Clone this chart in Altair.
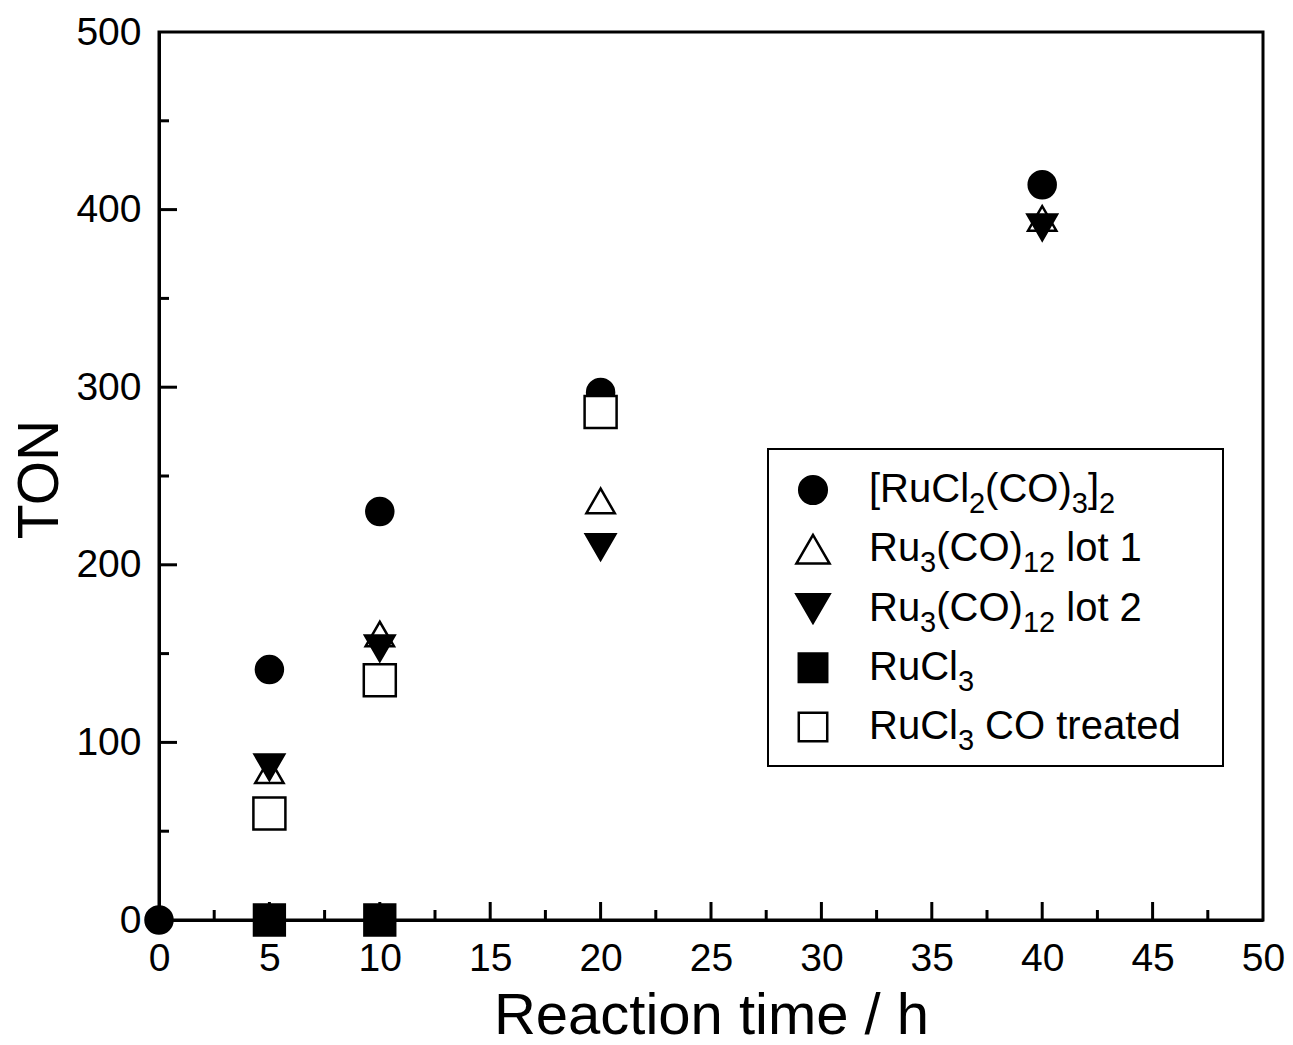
import altair as alt
import pandas as pd

# ---------------- data ----------------
series_names = ["[RuCl2(CO)3]2", "Ru3(CO)12 lot 1", "Ru3(CO)12 lot 2", "RuCl3", "RuCl3 CO treated"]
# legend labels split into (text, is_subscript) pieces
label_parts = [
    [("[RuCl", 0), ("2", 1), ("(CO)", 0), ("3", 1), ("]", 0), ("2", 1)],
    [("Ru", 0), ("3", 1), ("(CO)", 0), ("12", 1), (" lot 1", 0)],
    [("Ru", 0), ("3", 1), ("(CO)", 0), ("12", 1), (" lot 2", 0)],
    [("RuCl", 0), ("3", 1)],
    [("RuCl", 0), ("3", 1), (" CO treated", 0)],
]
shapes = ["circle", "triangle-up", "triangle-down", "square", "square"]
fills = ["black", "white", "black", "black", "white"]
sizes = [729, 1024, 1024, 900, 529]
legend_sizes = [760, 1100, 1100, 810, 810]

time_a = [0, 5, 10, 20, 40]
ton_a = [0, 141, 230, 297, 414]
time_b = [5, 10, 20, 40]
ton_b = [84, 161, 236, 395]
time_c = [5, 10, 20, 40]
ton_c = [86, 153, 210, 390]
time_d = [5, 10]
ton_d = [0, 0]
time_e = [5, 10, 20]
ton_e = [60, 135, 286]

x_labels = [0, 5, 10, 15, 20, 25, 30, 35, 40, 45, 50]
y_labels = [0, 100, 200, 300, 400, 500]
x_major = [5, 10, 15, 20, 25, 30, 35, 40, 45]
x_minor = [2.5, 7.5, 12.5, 17.5, 22.5, 27.5, 32.5, 37.5, 42.5, 47.5]
y_major = [100, 200, 300, 400]
y_minor = [50, 150, 250, 350, 450]

rows = []
for name, ts, vs in zip(series_names,
                        [time_a, time_b, time_c, time_d, time_e],
                        [ton_a, ton_b, ton_c, ton_d, ton_e]):
    for t, v in zip(ts, vs):
        rows.append({"series": name, "time": t, "ton": v})
df = pd.DataFrame(rows)

W, H = 1104, 888
PAD_L, PAD_T = 151, 24
FONT = "Liberation Sans"

xscale = alt.Scale(domain=[0, 50], nice=False, zero=False)
yscale = alt.Scale(domain=[0, 500], nice=False, zero=False)

x_axis = alt.Axis(values=x_labels, ticks=False, tickSize=0, grid=False,
                  labelFontSize=39, labelPadding=19, labelFont=FONT,
                  titleFontSize=58, titleFont=FONT, titleFontWeight="normal",
                  titleBaseline="alphabetic", titleY=113,
                  domainColor="black", domainWidth=3, labelColor="black",
                  titleColor="black", labelFlush=False)
y_axis = alt.Axis(values=y_labels, ticks=False, tickSize=0, grid=False,
                  labelFontSize=39, labelPadding=18, labelFont=FONT,
                  titleFontSize=57, titleFont=FONT, titleFontWeight="normal",
                  titleBaseline="alphabetic", titleX=-102, titleY=447,
                  domainColor="black", domainWidth=3, labelColor="black",
                  titleColor="black", labelFlush=False)

points = alt.Chart(df).mark_point(
    stroke="black", strokeWidth=2.5, opacity=1, fillOpacity=1
).encode(
    x=alt.X("time:Q", scale=xscale, title="Reaction time / h", axis=x_axis),
    y=alt.Y("ton:Q", scale=yscale, title="TON", axis=y_axis),
    shape=alt.Shape("series:N", scale=alt.Scale(domain=series_names, range=shapes), legend=None),
    fill=alt.Fill("series:N", scale=alt.Scale(domain=series_names, range=fills), legend=None),
    size=alt.Size("series:N", scale=alt.Scale(domain=series_names, range=sizes), legend=None),
)

xmaj = alt.Chart(pd.DataFrame({"v": x_major})).mark_rule(color="black", strokeWidth=3).encode(
    x=alt.X("v:Q", scale=xscale, title="Reaction time / h"), y=alt.value(H), y2=alt.value(H - 18))
xmin = alt.Chart(pd.DataFrame({"v": x_minor})).mark_rule(color="black", strokeWidth=3).encode(
    x=alt.X("v:Q", scale=xscale, title="Reaction time / h"), y=alt.value(H), y2=alt.value(H - 10))
ymaj = alt.Chart(pd.DataFrame({"v": y_major})).mark_rule(color="black", strokeWidth=3).encode(
    y=alt.Y("v:Q", scale=yscale, title="TON"), x=alt.value(0), x2=alt.value(18))
ymin = alt.Chart(pd.DataFrame({"v": y_minor})).mark_rule(color="black", strokeWidth=3).encode(
    y=alt.Y("v:Q", scale=yscale, title="TON"), x=alt.value(0), x2=alt.value(10))

# ---------------- manual legend (for real subscripts) ----------------
# Arial / Liberation Sans advance widths (per 1000 em)
ADV = {"[": 278, "]": 278, "R": 722, "u": 556, "C": 722, "l": 222, "(": 333, ")": 333,
       "O": 778, " ": 278, "o": 556, "t": 278, "1": 556, "2": 556, "3": 556, "r": 333,
       "e": 556, "a": 556, "d": 556}
MAIN_FS, SUB_FS, SUB_SHIFT = 40, 29, 11
# legend box in page pixels (768..1223, 449..766) converted to plot coords
LEG_X0, LEG_X1 = 768 - 8 - PAD_L, 1223 - 8 - PAD_L
LEG_Y0, LEG_Y1 = 449 - 8 - PAD_T, 766 - 8 - PAD_T
SYM_X, TEXT_X = 813 - 8 - PAD_L, 869 - 8 - PAD_L
BASE0, ROW_STEP = 502 - 8 - PAD_T, 59.25

def text_width(s, fs):
    return sum(ADV.get(ch, 556) for ch in s) * fs / 1000.0

one = pd.DataFrame({"k": [0]})
legend_layers = [
    alt.Chart(one).mark_rect(fill="white", stroke="black", strokeWidth=2).encode(
        x=alt.value(LEG_X0), x2=alt.value(LEG_X1), y=alt.value(LEG_Y0), y2=alt.value(LEG_Y1))
]
for i, parts in enumerate(label_parts):
    base = BASE0 + i * ROW_STEP
    legend_layers.append(
        alt.Chart(pd.DataFrame({"series": [series_names[i]]})).mark_point(
            shape=shapes[i], fill=fills[i], stroke="black", strokeWidth=2.5,
            size=legend_sizes[i], opacity=1, fillOpacity=1
        ).encode(x=alt.value(SYM_X), y=alt.value(base - 12))
    )
    cx = TEXT_X
    for txt, sub in parts:
        fs = SUB_FS if sub else MAIN_FS
        yy = base + (SUB_SHIFT if sub else 0)
        lead = len(txt) - len(txt.lstrip(" "))
        cx += text_width(" " * lead, fs)
        shown = txt.lstrip(" ")
        legend_layers.append(
            alt.Chart(pd.DataFrame({"t": [shown]})).mark_text(
                align="left", baseline="alphabetic", font=FONT, fontSize=fs, color="black"
            ).encode(text="t:N", x=alt.value(cx), y=alt.value(yy))
        )
        cx += text_width(shown, fs)

chart = alt.layer(points, xmaj, xmin, ymaj, ymin, *legend_layers).properties(
    width=W, height=H,
    autosize=alt.AutoSizeParams(type="none"),
    padding={"left": PAD_L, "top": PAD_T, "right": 22, "bottom": 117},
).configure(
    background="white",
    view=alt.ViewConfig(stroke="black", strokeWidth=3),
)

chart.save("out.html", embed_options={"renderer": "svg", "actions": False})
